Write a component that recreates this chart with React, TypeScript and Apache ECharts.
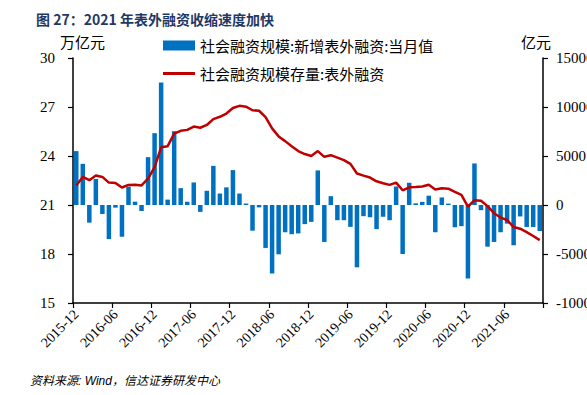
import React, { useEffect, useRef } from "react";
import * as echarts from "echarts";

// Monthly categories 2015-12 .. 2021-11
const months: string[] = [
  "2015-12",
  "2016-01", "2016-02", "2016-03", "2016-04", "2016-05", "2016-06", "2016-07", "2016-08", "2016-09", "2016-10", "2016-11", "2016-12",
  "2017-01", "2017-02", "2017-03", "2017-04", "2017-05", "2017-06", "2017-07", "2017-08", "2017-09", "2017-10", "2017-11", "2017-12",
  "2018-01", "2018-02", "2018-03", "2018-04", "2018-05", "2018-06", "2018-07", "2018-08", "2018-09", "2018-10", "2018-11", "2018-12",
  "2019-01", "2019-02", "2019-03", "2019-04", "2019-05", "2019-06", "2019-07", "2019-08", "2019-09", "2019-10", "2019-11", "2019-12",
  "2020-01", "2020-02", "2020-03", "2020-04", "2020-05", "2020-06", "2020-07", "2020-08", "2020-09", "2020-10", "2020-11", "2020-12",
  "2021-01", "2021-02", "2021-03", "2021-04", "2021-05", "2021-06", "2021-07", "2021-08", "2021-09", "2021-10", "2021-11",
];

// 社会融资规模:新增表外融资:当月值 (亿元, right axis)
const newOffBalance: number[] = [
  5500, 4200, -1800, 2650, -920, -3480, -270, -3240, 1870, 340, -610, 4880,
  7330, 12500, 550, 7530, 1720, 330, 2300, -700, 1450, 3990, 1170, 1800,
  3560, 1170, 150, -2620, -240, -4380, -6990, -5030, -2780, -2980, -2900, -1950,
  -1720, 3530, -3770, 900, -1550, -1550, -2230, -6360, -1140, -1250, -2460, -1200,
  -1550, 1890, -5000, 2270, 170, 320, 950, -2780, 770, 140, -2270, -2160,
  -7500, 4240, -530, -4250, -3770, -2780, -1900, -4110, -1170, -2240, -2240, -2660,
];

// 社会融资规模存量:表外融资 (万亿元, left axis)
const stockOffBalance: number[] = [
  22.2, 22.72, 22.52, 22.8, 22.72, 22.37, 22.35, 22.07, 22.23, 22.24, 22.2, 22.62,
  23.32, 24.53, 24.6, 25.37, 25.54, 25.6, 25.8, 25.73, 25.9, 26.26, 26.4, 26.6,
  26.94, 27.07, 27.02, 26.8, 26.77, 26.38, 25.69, 25.2, 24.91, 24.6, 24.3, 24.12,
  24.0, 24.3, 23.95, 24.05, 23.9, 23.75, 23.52, 22.93, 22.8, 22.68, 22.45, 22.33,
  22.23, 22.37, 21.9, 22.08, 22.1, 22.13, 22.24, 21.95, 22.03, 22.0, 21.8, 21.62,
  20.9, 21.29, 21.26, 20.93, 20.5, 20.23, 20.08, 19.65, 19.55, 19.34, 19.1, 18.85,
];

const leftAxis = { min: 15, max: 30, interval: 3 };
const rightAxis = { min: -10000, max: 15000, interval: 5000 };
const labelEveryMonths = 6;

const barName = "社会融资规模:新增表外融资:当月值";
const lineName = "社会融资规模存量:表外融资";

const CJK = "'Noto Sans CJK SC', 'Noto Sans', sans-serif";
const SERIF = "'Liberation Serif', 'DejaVu Serif', serif";

export default function App() {
  const ref = useRef<HTMLDivElement>(null);

  useEffect(() => {
    const chart = echarts.init(ref.current!, null, { renderer: "svg" });
    const axisLine = { show: true, onZero: false, lineStyle: { color: "#000", width: 1.5 } };
    const axisTick = { show: true, length: 5, lineStyle: { color: "#000", width: 1.2 } };
    chart.setOption({
      animation: false,
      backgroundColor: "#fff",
      title: {
        text: "图 27：2021 年表外融资收缩速度加快",
        left: 31,
        top: 7,
        textStyle: { fontSize: 14, fontWeight: "bold", color: "#1F3864", fontFamily: CJK },
      },
      legend: [
        {
          data: [barName],
          left: 158,
          top: 33,
          itemWidth: 32,
          itemHeight: 10,
          icon: "rect",
          textStyle: { fontSize: 15, color: "#000", fontFamily: CJK },
        },
        {
          data: [lineName],
          left: 158,
          top: 61,
          itemWidth: 32,
          itemHeight: 3,
          icon: "rect",
          textStyle: { fontSize: 15, color: "#000", fontFamily: CJK },
        },
      ],
      grid: { left: 73, right: 44, top: 58, bottom: 92, containLabel: false, outerBoundsMode: "none" },
      xAxis: {
        type: "category",
        data: months,
        boundaryGap: true,
        axisLine,
        axisTick: { ...axisTick, interval: labelEveryMonths - 1 },
        axisLabel: {
          interval: labelEveryMonths - 1,
          rotate: 45,
          margin: 9,
          fontSize: 14,
          fontFamily: SERIF,
          color: "#000",
        },
        splitLine: { show: false },
      },
      yAxis: [
        {
          type: "value",
          position: "left",
          min: leftAxis.min,
          max: leftAxis.max,
          interval: leftAxis.interval,
          axisLine,
          axisTick,
          splitLine: { show: false },
          axisLabel: { fontSize: 15, fontFamily: SERIF, color: "#000", margin: 18 },
        },
        {
          type: "value",
          position: "right",
          min: rightAxis.min,
          max: rightAxis.max,
          interval: rightAxis.interval,
          axisLine,
          axisTick,
          splitLine: { show: false },
          axisLabel: {
            fontSize: 15,
            fontFamily: SERIF,
            color: "#000",
            margin: 13,
            formatter: (v: number) => String(v),
          },
        },
      ],
      graphic: [
        {
          type: "text",
          left: 60,
          top: 34,
          style: { text: "万亿元", fontSize: 15, fill: "#000", fontFamily: CJK },
        },
        {
          type: "text",
          left: 521,
          top: 34,
          style: { text: "亿元", fontSize: 15, fill: "#000", fontFamily: CJK },
        },
        {
          type: "text",
          left: 30,
          top: 375,
          style: {
            text: "资料来源: Wind，信达证券研发中心",
            fontSize: 12,
            fontStyle: "italic",
            fill: "#000",
            fontFamily: "'Liberation Sans', " + CJK,
          },
        },
      ],
      series: [
        {
          name: barName,
          type: "bar",
          yAxisIndex: 1,
          data: newOffBalance,
          barWidth: 4.5,
          itemStyle: { color: "#0070C0" },
        },
        {
          name: lineName,
          type: "line",
          yAxisIndex: 0,
          data: stockOffBalance,
          symbol: "none",
          lineStyle: { color: "#C00000", width: 2.5 },
          itemStyle: { color: "#C00000" },
        },
      ],
    });
    return () => chart.dispose();
  }, []);

  return (
    <div
      ref={ref}
      style={{ position: "absolute", left: 0, top: 0, width: 587, height: 395, background: "#fff" }}
    />
  );
}
